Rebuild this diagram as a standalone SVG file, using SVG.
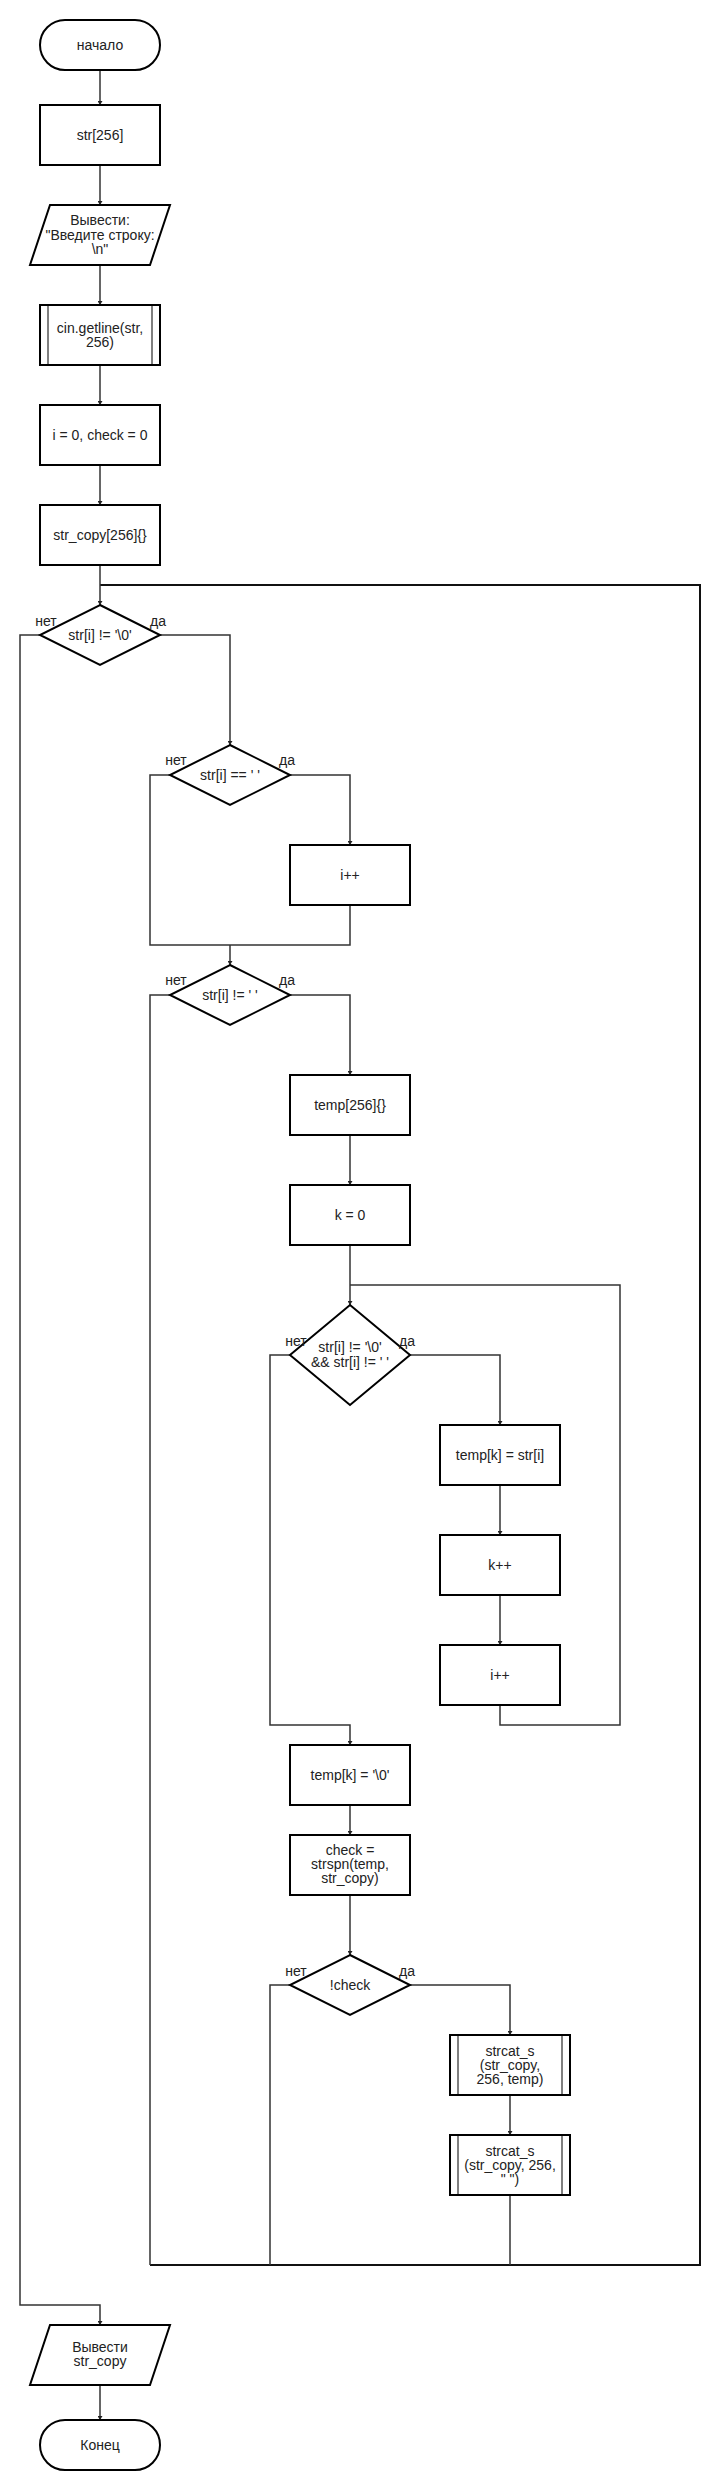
<svg xmlns="http://www.w3.org/2000/svg" width="720" height="2490" viewBox="0 0 720 2490">
<defs>
<marker id="ar" markerUnits="userSpaceOnUse" markerWidth="4" markerHeight="5" viewBox="0 0 4 5" refX="4" refY="2.5" orient="auto">
<path d="M0,0 L4,2.5 L0,5 z" fill="#222"/>
</marker>
</defs>
<style>
.s{fill:#fff;stroke:#000;stroke-width:2}
.in{stroke:#808080;stroke-width:2;fill:none}
.c{fill:none;stroke:#333;stroke-width:1.5}
.ca{fill:none;stroke:#333;stroke-width:1.5;marker-end:url(#ar)}
.lp{fill:none;stroke:#111;stroke-width:2}
text{font-family:"Liberation Sans",Arial,sans-serif;font-size:14px;fill:#222;text-anchor:middle}
</style>
<rect width="720" height="2490" fill="#fff"/>
<g id="connectors">
<path class="ca" d="M100,70 V105"/>
<path class="ca" d="M100,165 V205"/>
<path class="ca" d="M100,265 V305"/>
<path class="ca" d="M100,365 V405"/>
<path class="ca" d="M100,465 V505"/>
<path class="lp" d="M150,2265 H700 V585 H100"/>
<path class="ca" d="M100,565 V605"/>
<path class="ca" d="M40,635 H20 V2305 H100 V2325"/>
<path class="ca" d="M160,635 H230 V745"/>
<path class="c" d="M170,775 H150 V945 H350 V905"/>
<path class="ca" d="M230,945 V965"/>
<path class="ca" d="M290,775 H350 V845"/>
<path class="c" d="M170,995 H150 V2265"/>
<path class="ca" d="M290,995 H350 V1075"/>
<path class="ca" d="M350,1135 V1185"/>
<path class="ca" d="M350,1245 V1305"/>
<path class="c" d="M500,1705 V1725 H620 V1285 H350"/>
<path class="ca" d="M290,1355 H270 V1725 H350 V1745"/>
<path class="ca" d="M410,1355 H500 V1425"/>
<path class="ca" d="M500,1485 V1535"/>
<path class="ca" d="M500,1595 V1645"/>
<path class="ca" d="M350,1805 V1835"/>
<path class="ca" d="M350,1895 V1955"/>
<path class="c" d="M290,1985 H270 V2265"/>
<path class="ca" d="M410,1985 H510 V2035"/>
<path class="ca" d="M510,2095 V2135"/>
<path class="c" d="M510,2195 V2265"/>
<path class="ca" d="M100,2385 V2420"/>
</g>
<g id="start">
<rect class="s" x="40" y="20" width="120" height="50" rx="25"/>
<text x="100" y="50">начало</text>
</g>
<g id="str256">
<rect class="s" x="40" y="105" width="120" height="60"/>
<text x="100" y="140">str[256]</text>
</g>
<g id="out1">
<polygon class="s" points="50,205 170,205 150,265 30,265"/>
<text x="100" y="225">Вывести:</text>
<text x="100" y="240">"Введите строку:</text>
<text x="100" y="254">\n"</text>
</g>
<g id="getline">
<rect class="s" x="40" y="305" width="120" height="60"/>
<path class="in" d="M48,306 V364 M152,306 V364"/>
<text x="100" y="333">cin.getline(str,</text>
<text x="100" y="347">256)</text>
</g>
<g id="init">
<rect class="s" x="40" y="405" width="120" height="60"/>
<text x="100" y="440">i = 0, check = 0</text>
</g>
<g id="strcopy">
<rect class="s" x="40" y="505" width="120" height="60"/>
<text x="100" y="540">str_copy[256]{}</text>
</g>
<g id="d1">
<polygon class="s" points="100,605 160,635 100,665 40,635"/>
<text x="100" y="640">str[i] != '\0'</text>
<text x="46" y="626">нет</text>
<text x="158" y="626">да</text>
</g>
<g id="d2">
<polygon class="s" points="230,745 290,775 230,805 170,775"/>
<text x="230" y="780">str[i] == ' '</text>
<text x="176" y="765">нет</text>
<text x="287" y="765">да</text>
</g>
<g id="inc1">
<rect class="s" x="290" y="845" width="120" height="60"/>
<text x="350" y="880">i++</text>
</g>
<g id="d3">
<polygon class="s" points="230,965 290,995 230,1025 170,995"/>
<text x="230" y="1000">str[i] != ' '</text>
<text x="176" y="985">нет</text>
<text x="287" y="985">да</text>
</g>
<g id="temp">
<rect class="s" x="290" y="1075" width="120" height="60"/>
<text x="350" y="1110">temp[256]{}</text>
</g>
<g id="k0">
<rect class="s" x="290" y="1185" width="120" height="60"/>
<text x="350" y="1220">k = 0</text>
</g>
<g id="d4">
<polygon class="s" points="350,1305 410,1355 350,1405 290,1355"/>
<text x="350" y="1352">str[i] != '\0'</text>
<text x="350" y="1367">&amp;&amp; str[i] != ' '</text>
<text x="296" y="1346">нет</text>
<text x="407" y="1346">да</text>
</g>
<g id="assign">
<rect class="s" x="440" y="1425" width="120" height="60"/>
<text x="500" y="1460">temp[k] = str[i]</text>
</g>
<g id="kinc">
<rect class="s" x="440" y="1535" width="120" height="60"/>
<text x="500" y="1570">k++</text>
</g>
<g id="iinc">
<rect class="s" x="440" y="1645" width="120" height="60"/>
<text x="500" y="1680">i++</text>
</g>
<g id="term0">
<rect class="s" x="290" y="1745" width="120" height="60"/>
<text x="350" y="1780">temp[k] = '\0'</text>
</g>
<g id="check">
<rect class="s" x="290" y="1835" width="120" height="60"/>
<text x="350" y="1855">check =</text>
<text x="350" y="1869">strspn(temp,</text>
<text x="350" y="1883">str_copy)</text>
</g>
<g id="d5">
<polygon class="s" points="350,1955 410,1985 350,2015 290,1985"/>
<text x="350" y="1990">!check</text>
<text x="296" y="1976">нет</text>
<text x="407" y="1976">да</text>
</g>
<g id="cat1">
<rect class="s" x="450" y="2035" width="120" height="60"/>
<path class="in" d="M458,2036 V2094 M562,2036 V2094"/>
<text x="510" y="2056">strcat_s</text>
<text x="510" y="2070">(str_copy,</text>
<text x="510" y="2084">256, temp)</text>
</g>
<g id="cat2">
<rect class="s" x="450" y="2135" width="120" height="60"/>
<path class="in" d="M458,2136 V2194 M562,2136 V2194"/>
<text x="510" y="2156">strcat_s</text>
<text x="510" y="2170">(str_copy, 256,</text>
<text x="510" y="2184">" ")</text>
</g>
<g id="out2">
<polygon class="s" points="50,2325 170,2325 150,2385 30,2385"/>
<text x="100" y="2352">Вывести</text>
<text x="100" y="2366">str_copy</text>
</g>
<g id="end">
<rect class="s" x="40" y="2420" width="120" height="50" rx="25"/>
<text x="100" y="2450">Конец</text>
</g>
</svg>
